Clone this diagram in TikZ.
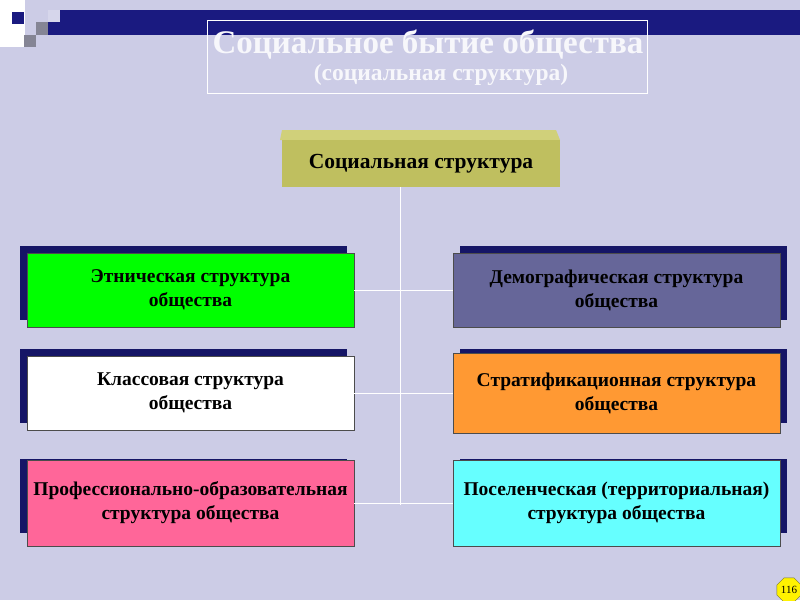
\documentclass[tikz,border=0pt]{standalone}
\usepackage{fontspec}
\setmainfont{Liberation Serif}
\usetikzlibrary{shapes.geometric}
\definecolor{bg}{HTML}{CCCCE6}
\definecolor{navy}{HTML}{1A1A80}
\definecolor{olive}{HTML}{BFBF5F}
\definecolor{olivetop}{HTML}{D0D07A}
\definecolor{demo}{HTML}{666699}
\definecolor{orng}{HTML}{FF9933}
\definecolor{pnk}{HTML}{FF6699}
\definecolor{cyn}{HTML}{66FFFF}
\tikzset{x=1pt,y=-1pt,
 box/.style={draw=black!70,line width=0.6pt,minimum width=327pt,minimum height=74pt,align=center,
   font=\fontsize{19.5}{24}\selectfont\bfseries,inner sep=1pt},
 shad/.style={fill=navy!80!black,minimum width=327pt,minimum height=74pt,inner sep=0pt},
 conn/.style={draw=white,line width=0.7pt}}
\begin{document}
\begin{tikzpicture}
\fill[bg] (0,0) rectangle (800,600);
\useasboundingbox (0,0) rectangle (800,600);
% corner decoration
\fill[white] (0,0) rectangle (25,47);
\fill[navy] (12,12) rectangle (24,24);
\fill[navy] (48,10) rectangle (800,35);
\fill[bg!80!white] (48,10) rectangle (60,22);
\fill[black!35!bg] (36,22) rectangle (48,35);
\fill[black!35!bg] (24,35) rectangle (36,47);
% title
\node[draw=white,line width=0.6pt,minimum width=440pt,minimum height=73pt,anchor=north west,inner sep=0pt] (title) at (207,20) {};
\node[text=white!85!bg,font=\fontsize{33}{36}\selectfont\bfseries] (t1) at (428,45) {Социальное бытие общества};
\node[text=white!85!bg,font=\fontsize{23.5}{28}\selectfont\bfseries] (t2) at (441,75) {(социальная структура)};
% connectors
\coordinate (top) at (400,187);
\coordinate (bot) at (400,505);
% shadows
\node[shad] (s1) at (183.5,283) {};
\node[shad] (s2) at (183.5,386) {};
\node[shad] (s3) at (183.5,496) {};
\node[shad] (s4) at (623.5,283) {};
\node[shad] (s5) at (623.5,386) {};
\node[shad] (s6) at (623.5,496) {};
\draw[conn] (top) -- (bot);
% boxes
\node[box,fill=green] (b1) at (190.5,290) {Этническая структура\\общества};
\node[box,fill=white] (b2) at (190.5,393) {Классовая структура\\общества};
\node[box,fill=pnk,minimum height=86pt] (b3) at (190.5,503) {Профессионально-образовательная\\структура общества};
\node[box,fill=demo] (b4) at (616.5,290) {Демографическая структура\\общества};
\node[box,fill=orng,minimum height=80pt] (b5) at (616.5,393) {Стратификационная структура\\общества};
\node[box,fill=cyn,minimum height=86pt] (b6) at (616.5,503) {Поселенческая (территориальная)\\структура общества};
\draw[conn] (b1.east) -- (b4.west);
\draw[conn] (b2.east) -- (b5.west);
\draw[conn] (b3.east) -- (b6.west);
% root
\fill[olivetop] (282,130) -- (556,130) -- (560,140) -- (280,140) -- cycle;
\node[fill=olive,minimum width=278pt,minimum height=47pt,inner sep=0pt,font=\fontsize{21.5}{24}\selectfont\bfseries] (root) at (421,163.5) {Социальная структура};
% page number
\node[regular polygon,regular polygon sides=8,fill=yellow,draw=olive!60!black,inner sep=0.5pt,font=\fontsize{11}{12}\selectfont] (pg) at (789,590) {116};
\end{tikzpicture}
\end{document}
